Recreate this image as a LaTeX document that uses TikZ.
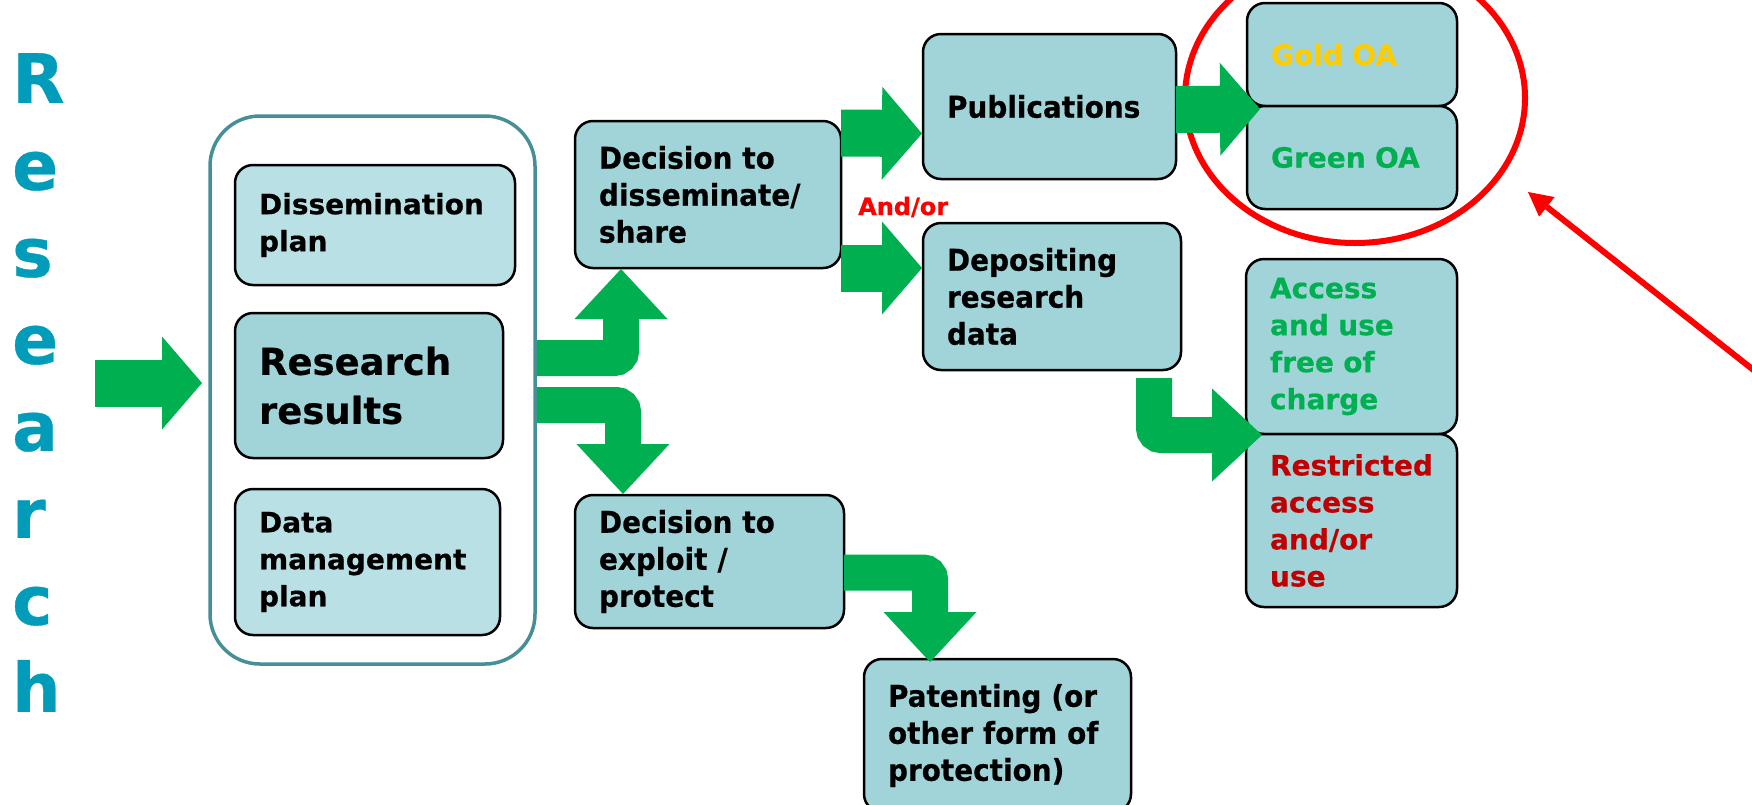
\documentclass[tikz,border=0pt]{standalone}
\usepackage{fontspec}
\setmainfont{DejaVu Sans}[BoldFeatures={FakeBold=0.5}]
\newfontfamily\narrowfont[FakeStretch=0.93,BoldFeatures={FakeBold=0.5}]{DejaVu Sans}
\usepackage{tikz}
\usetikzlibrary{arrows.meta,calc,shapes.geometric}
\definecolor{boxfill}{RGB}{160,212,216}
\definecolor{planfill}{RGB}{185,224,228}
\definecolor{frameteal}{RGB}{70,143,150}
\definecolor{titleteal}{RGB}{0,156,186}
\definecolor{arrowgreen}{RGB}{0,176,80}
\definecolor{goldtext}{RGB}{255,204,0}
\definecolor{restrred}{RGB}{192,0,0}
\tikzset{
    box/.style = {draw, line width=2.5pt, rounded corners=18pt,
        fill=boxfill, anchor=north west, outer sep=0pt,
        inner xsep=24pt, inner ysep=2pt, align=left,
        font=\bfseries\fontsize{28}{37}\selectfont},
    lightbox/.style = {box, fill=planfill},
    narrowbox/.style = {box, font=\narrowfont\bfseries\fontsize{30}{37}\selectfont},
    frame/.style = {draw=frameteal, line width=3.5pt, rounded corners=50pt,
        anchor=north west, outer sep=0pt},
    title/.style = {anchor=north west, inner sep=0pt, align=left,
        text=titleteal, font=\bfseries\fontsize{68}{87}\selectfont},
    andor/.style = {anchor=west, inner sep=0pt, text=red,
        font=\bfseries\fontsize{24}{29}\selectfont},
    ring/.style = {draw=red, line width=6pt, ellipse},
    fatarrow/.style = {draw=arrowgreen, line width=47pt,
        -{Triangle[width=93pt,length=40pt,line width=0pt]}},
    bentarrow/.style = {draw=arrowgreen, line width=36pt, rounded corners=7pt,
        -{Triangle[width=93pt,length=50pt,line width=0pt]}},
    redarrow/.style = {draw=red, line width=6pt,
        -{Triangle[width=25pt,length=24pt,line width=0pt]}}
}

\begin{document}
\begin{tikzpicture}[x=1pt,y=-1pt]
            \useasboundingbox (0,0) rectangle (1752,804);
            \clip (0,0) rectangle (1752,804);
            \node[title] (word) at (12,53) {R\\e\\s\\e\\a\\r\\c\\h};
            \node[frame, minimum width=325pt, minimum height=548pt] (outer) at (210,116) {};
            \node[lightbox, text width=232pt, minimum height=120pt] (dplan) at (235,165) {Dissemination\\plan};
            \node[box, text width=220pt, minimum height=145pt, font=\bfseries\fontsize{37}{49}\selectfont] (rres) at (235,313) {Research\\results};
            \node[lightbox, text width=217pt, minimum height=146pt] (dmp) at (235,489) {Data\\management\\plan};
            \node[narrowbox, text width=218pt, minimum height=147pt] (dshare) at (575,121) {Decision to\\disseminate/\\share};
            \node[narrowbox, text width=221pt, minimum height=133pt] (dexp) at (575,495) {Decision to\\exploit /\\protect};
            \node[narrowbox, text width=205pt, minimum height=145pt] (pub) at (923,34) {Publications};
            \node[narrowbox, text width=210pt, minimum height=147pt] (dep) at (923,223) {Depositing\\research\\data};
            \node[narrowbox, text width=219pt, minimum height=153pt] (pat) at (864,659) {Patenting (or\\other form of\\protection)};
            \node[box, text width=162pt, minimum height=103pt, text=goldtext] (gold) at (1247,3) {Gold OA};
            \node[box, text width=162pt, minimum height=103pt, text=arrowgreen] (green) at (1247,106) {Green OA};
            \node[box, text width=163pt, minimum height=175pt, text=arrowgreen] (acc) at (1246,259) {Access\\and use\\free of\\charge};
            \node[box, text width=163pt, minimum height=173pt, text=restrred] (restr) at (1246,434) {Restricted\\access\\and/or\\use};
            \node[andor] (andor) at (858,207) {And/or};
            \node[ring, minimum width=340pt, minimum height=290pt] (ring) at (1355,98) {};
            \coordinate (inp) at (95,383);
            \coordinate (redtail) at (1775,387);
            \coordinate (redtip) at (1528,192);
            \draw[fatarrow] (inp) -- ($(outer.west |- inp)+(-8,0)$);
            \draw[bentarrow] ($(outer.east)+(2,-32)$) -| ($(dshare.south west)+(46,1)$);
            \draw[bentarrow] ($(outer.east)+(2,15)$) -| ($(dexp.north west)+(48,-1)$);
            \draw[fatarrow] ($(dshare.north east)+(0,12)$) -- ($(pub.west)+(-1,27)$);
            \draw[fatarrow] (dshare.south east) -- ($(dep.west)+(-1,-28.5)$);
            \draw[fatarrow] ($(pub.east)+(0,3)$) -- ($(gold.south west)+(13,3)$);
            \draw[bentarrow] ($(dep.south east)+(-27,8)$) |- ($(acc.south west)+(16,1)$);
            \draw[bentarrow] ($(dexp.east)+(0,11)$) -| ($(pat.north west)+(66,3)$);
            \draw[redarrow] (redtail) -- (redtip);
        \end{tikzpicture}
\end{document}
